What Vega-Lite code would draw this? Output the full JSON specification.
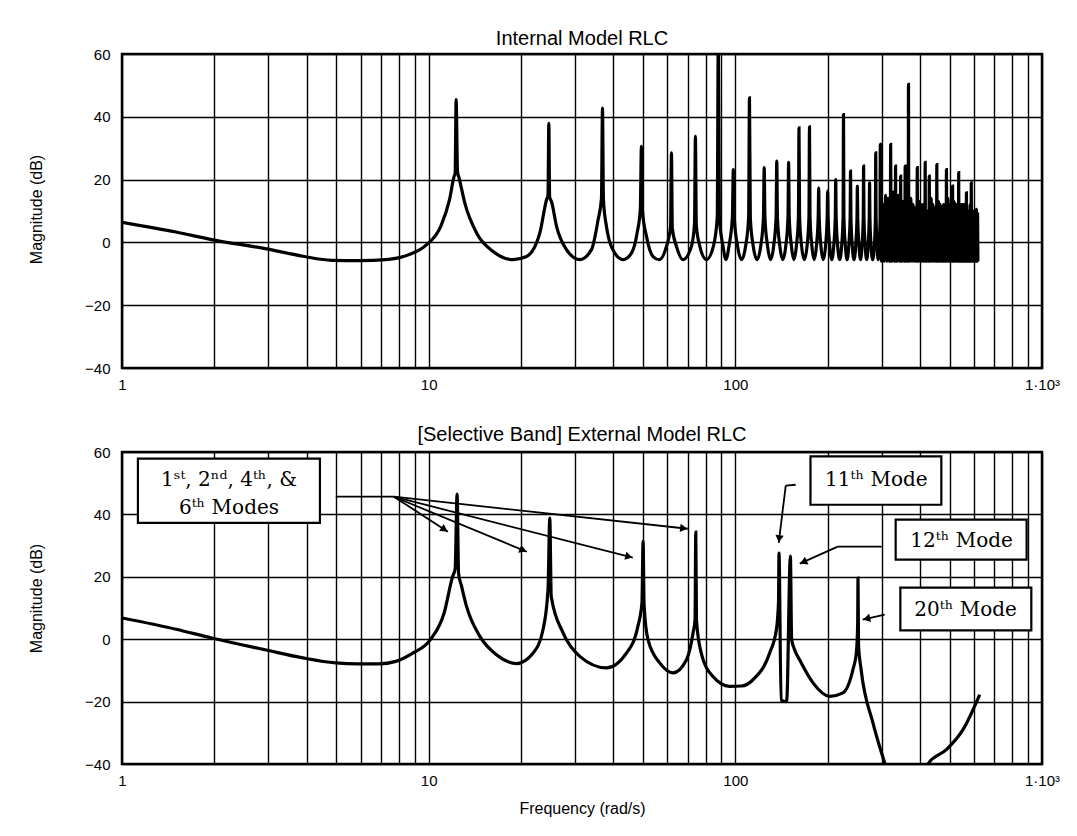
{
  "$schema": "https://vega.github.io/schema/vega-lite/v6.json",
  "background": "white",
  "padding": {"left": 26, "top": 27, "right": 5, "bottom": 5},
  "bounds": "flush",
  "spacing": 84,
  "config": {
    "font": "Liberation Sans",
    "view": {"stroke": "black", "strokeWidth": 2.5},
    "title": {"color": "black", "fontWeight": "normal", "font": "Liberation Sans"}
  },
  "datasets": {
    "top": [
      {"f":1,"db":6.4},{"f":1.5,"db":3.3},{"f":1.96,"db":0.9},{"f":2.93,"db":-2.0},{"f":3.89,"db":-4.4},{"f":4.83,"db":-5.7},{"f":5.88,"db":-5.8},{"f":7.42,"db":-5.4},{"f":8.63,"db":-3.9},{"f":9.85,"db":-0.7},{"f":10.96,"db":5.2},{"f":11.7,"db":13.7},{"f":12.1,"db":21},{"f":12.2,"db":22},{"f":12.29,"db":45.5},{"f":12.42,"db":22.5},{"f":12.57,"db":20.5},{"f":13.12,"db":12.5},{"f":14.33,"db":3.0},{"f":16.23,"db":-2.9},{"f":18.86,"db":-5.5},{"f":20.85,"db":-4.5},{"f":23.04,"db":3.0},{"f":24.23,"db":13.6},{"f":24.5,"db":15},{"f":24.65,"db":37.9},{"f":24.8,"db":14.5},{"f":25.15,"db":13},{"f":26.12,"db":5.1},{"f":28.14,"db":-2.3},{"f":31.1,"db":-5.5},{"f":33.96,"db":-2.3},{"f":35.68,"db":7.2},{"f":36.6,"db":14},{"f":36.88,"db":42.8},{"f":37.15,"db":13.5},{"f":38.0,"db":5.1},{"f":40.45,"db":-3.4},{"f":43.05,"db":-5.5},{"f":45.86,"db":-3.4},{"f":47.83,"db":3},{"f":49.0,"db":10.5},{"f":49.4,"db":30.6},{"f":49.8,"db":10},{"f":51.3,"db":2},{"f":53.9,"db":-4.5},{"f":56.5,"db":-5.5},{"f":59.5,"db":-1.5},{"f":61.5,"db":5},{"f":61.9,"db":28.5},{"f":62.3,"db":4.5},{"f":64.3,"db":-1.3},{"f":67.5,"db":-5.5},{"f":71.9,"db":-1.3},{"f":73.6,"db":6},{"f":74.1,"db":33.8},{"f":74.6,"db":5.5},{"f":76.5,"db":-1},{"f":80.5,"db":-5.5},
      {"f":84.9,"db":-1},{"f":87.3,"db":8},{"f":88,"db":66},{"f":88.7,"db":8},{"f":91.1,"db":-1},{"f":93.2,"db":-5.5},
      {"f":95.4,"db":-1},{"f":97.8,"db":8},{"f":98.5,"db":23.2},{"f":99.2,"db":8},{"f":101.6,"db":-1},{"f":104.8,"db":-5.5},
      {"f":108.1,"db":-1},{"f":110.5,"db":8},{"f":111.2,"db":46},{"f":111.9,"db":8},{"f":114.3,"db":-1},{"f":117.7,"db":-5.5},
      {"f":121.1,"db":-1},{"f":123.5,"db":8},{"f":124.2,"db":23.8},{"f":124.9,"db":8},{"f":127.3,"db":-1},{"f":130.3,"db":-5.5},
      {"f":133.4,"db":-1},{"f":135.8,"db":8},{"f":136.5,"db":25.9},{"f":137.2,"db":8},{"f":139.6,"db":-1},{"f":142.8,"db":-5.5},
      {"f":146.1,"db":-1},{"f":148.5,"db":8},{"f":149.2,"db":25.5},{"f":149.9,"db":8},{"f":152.3,"db":-1},{"f":155.2,"db":-5.5},
      {"f":158.2,"db":-1},{"f":160.6,"db":8},{"f":161.3,"db":36.5},{"f":162,"db":8},{"f":164.4,"db":-1},{"f":167.9,"db":-5.5},
      {"f":171.4,"db":-1},{"f":173.8,"db":8},{"f":174.5,"db":36.8},{"f":175.2,"db":8},{"f":177.6,"db":-1},{"f":180.8,"db":-5.5},
      {"f":183.9,"db":-1},{"f":186.3,"db":8},{"f":187,"db":17.4},{"f":187.7,"db":8},{"f":190.1,"db":-1},{"f":193.5,"db":-5.5},
      {"f":196.9,"db":-1},{"f":199.3,"db":8},{"f":200,"db":16.3},{"f":200.7,"db":8},{"f":203.1,"db":-1},{"f":206.2,"db":-5.5},
      {"f":209.4,"db":-1},{"f":211.8,"db":8},{"f":212.5,"db":20},{"f":213.2,"db":8},{"f":215.6,"db":-1},{"f":218.9,"db":-5.5},
      {"f":222.2,"db":-1},{"f":224.6,"db":8},{"f":225.3,"db":40.7},{"f":226,"db":8},{"f":228.4,"db":-1},{"f":231.4,"db":-5.5},
      {"f":234.4,"db":-1},{"f":236.8,"db":8},{"f":237.5,"db":22.7},{"f":238.2,"db":8},{"f":240.6,"db":-1},{"f":243.7,"db":-5.5},
      {"f":246.9,"db":-1},{"f":249.3,"db":8},{"f":250,"db":17.9},{"f":250.7,"db":8},{"f":253.1,"db":-1},{"f":256,"db":-5.5},
      {"f":258.9,"db":-1},{"f":261.3,"db":8},{"f":262,"db":24.3},{"f":262.7,"db":8},{"f":265.1,"db":-1},{"f":268,"db":-5.5},
      {"f":271,"db":-1},{"f":273.3,"db":8},{"f":274,"db":19},{"f":274.7,"db":8},{"f":277,"db":-1},{"f":280.5,"db":-5.5},
      {"f":284,"db":-1},{"f":286.3,"db":8},{"f":287,"db":28.5},{"f":287.7,"db":8},{"f":290,"db":-1},{"f":292,"db":-5.5},
      {"f":296.3,"db":6},{"f":297,"db":31.2},{"f":297.7,"db":6},{"f":300,"db":-6},{"f":303,"db":12},{"f":306,"db":-6},
      {"f":308.3,"db":8},{"f":309,"db":15},{"f":309.7,"db":8},{"f":312,"db":-6},{"f":315,"db":14},{"f":318,"db":-6},
      {"f":320.3,"db":6},{"f":321,"db":31.2},{"f":321.7,"db":6},{"f":324,"db":-6},{"f":327,"db":16},{"f":330,"db":-6},
      {"f":332.3,"db":6},{"f":333,"db":24.3},{"f":333.7,"db":6},{"f":336.2,"db":-6},{"f":339.5,"db":15},{"f":342.7,"db":-6},
      {"f":345.3,"db":6},{"f":346,"db":21.1},{"f":346.7,"db":6},{"f":349,"db":-6},{"f":352,"db":13},{"f":355,"db":-6},
      {"f":357.3,"db":6},{"f":358,"db":24.3},{"f":358.7,"db":6},{"f":360.2,"db":-6},{"f":362.5,"db":12},{"f":364.8,"db":-6},
      {"f":366.3,"db":6},{"f":367,"db":50.3},{"f":367.7,"db":6},{"f":370.2,"db":-6},{"f":373.5,"db":14},{"f":376.8,"db":-6},
      {"f":379.3,"db":6},{"f":380,"db":12},{"f":380.7,"db":6},{"f":383,"db":-6},{"f":386,"db":11},{"f":389,"db":-6},
      {"f":391.3,"db":6},{"f":392,"db":23.8},{"f":392.7,"db":6},{"f":395,"db":-6},{"f":398,"db":13},{"f":401,"db":-6},
      {"f":403.3,"db":6},{"f":404,"db":12},{"f":404.7,"db":6},{"f":407,"db":-6},{"f":410,"db":12},{"f":413,"db":-6},
      {"f":415.3,"db":6},{"f":416,"db":25.5},{"f":416.7,"db":6},{"f":419.2,"db":-6},{"f":422.5,"db":10},{"f":425.8,"db":-6},
      {"f":428.3,"db":6},{"f":429,"db":21.1},{"f":429.7,"db":6},{"f":432,"db":-6},{"f":435,"db":14},{"f":438,"db":-6},
      {"f":440.3,"db":6},{"f":441,"db":12},{"f":441.7,"db":6},{"f":444.2,"db":-6},{"f":447.5,"db":11},{"f":450.8,"db":-6},
      {"f":453.3,"db":6},{"f":454,"db":24.8},{"f":454.7,"db":6},{"f":457,"db":-6},{"f":460,"db":13},{"f":463,"db":-6},
      {"f":465.3,"db":6},{"f":466,"db":12},{"f":466.7,"db":6},{"f":468.8,"db":-6},{"f":471.5,"db":10},{"f":474.2,"db":-6},
      {"f":476.3,"db":6},{"f":477,"db":12},{"f":477.7,"db":6},{"f":479.8,"db":-6},{"f":482.5,"db":12},{"f":485.2,"db":-6},
      {"f":487.3,"db":6},{"f":488,"db":23.2},{"f":488.7,"db":6},{"f":490.8,"db":-6},{"f":493.5,"db":14},{"f":496.2,"db":-6},
      {"f":498.3,"db":6},{"f":499,"db":12},{"f":499.7,"db":6},{"f":502,"db":-6},{"f":505,"db":11},{"f":508,"db":-6},
      {"f":510.3,"db":6},{"f":511,"db":17.9},{"f":511.7,"db":6},{"f":514,"db":-6},{"f":517,"db":13},{"f":520,"db":-6},
      {"f":522.3,"db":6},{"f":523,"db":12},{"f":523.7,"db":6},{"f":526,"db":-6},{"f":529,"db":10},{"f":532,"db":-6},
      {"f":534.3,"db":6},{"f":535,"db":22.2},{"f":535.7,"db":6},{"f":537.8,"db":-6},{"f":540.5,"db":12},{"f":543.2,"db":-6},
      {"f":545.3,"db":6},{"f":546,"db":12},{"f":546.7,"db":6},{"f":548.5,"db":-6},{"f":551,"db":9},{"f":553.5,"db":-6},
      {"f":555.3,"db":6},{"f":556,"db":12},{"f":556.7,"db":6},{"f":558.8,"db":-6},{"f":561.5,"db":11},{"f":564.2,"db":-6},
      {"f":566.3,"db":6},{"f":567,"db":15.8},{"f":567.7,"db":6},{"f":569.8,"db":-6},{"f":572.5,"db":10},{"f":575.2,"db":-6},
      {"f":577.3,"db":6},{"f":578,"db":10},{"f":578.7,"db":6},{"f":580.5,"db":-6},{"f":583,"db":12},{"f":585.5,"db":-6},
      {"f":587.3,"db":6},{"f":588,"db":19},{"f":588.7,"db":6},{"f":591,"db":-6},{"f":594,"db":9},{"f":597,"db":-6},
      {"f":599.3,"db":6},{"f":600,"db":10},{"f":600.7,"db":6},{"f":602.8,"db":-6},{"f":605.5,"db":9},{"f":608.2,"db":-6},
      {"f":610.3,"db":6},{"f":611,"db":10.5},{"f":611.7,"db":6},{"f":614.5,"db":-6},{"f":616.5,"db":9},{"f":618,"db":-6}
    ],
    "bot": [
      {"f":1,"db":6.8},{"f":1.5,"db":3.2},{"f":1.96,"db":0.4},{"f":2.93,"db":-3.4},{"f":3.89,"db":-6},{"f":4.97,"db":-7.6},{"f":5.88,"db":-7.9},{"f":6.87,"db":-7.9},{"f":7.82,"db":-7.1},{"f":8.9,"db":-4.4},{"f":10.12,"db":-0.2},{"f":11.23,"db":8.4},{"f":11.97,"db":20.1},{"f":12.2,"db":22.5},{"f":12.38,"db":46.5},{"f":12.52,"db":21},{"f":12.8,"db":17},{"f":13.29,"db":10.5},{"f":14.69,"db":0.9},{"f":16.64,"db":-5},{"f":19.34,"db":-7.8},{"f":21.92,"db":-4.4},{"f":23.6,"db":3.1},{"f":24.5,"db":15.9},{"f":24.83,"db":38.8},{"f":25.1,"db":13.7},{"f":27.44,"db":2},{"f":31.1,"db":-5.5},{"f":38,"db":-9.2},{"f":44.2,"db":-4.4},{"f":48.1,"db":4.1},{"f":49.6,"db":11.6},{"f":50.03,"db":31.4},{"f":50.4,"db":11},{"f":51.9,"db":-0.15},{"f":56.7,"db":-7.6},{"f":62.7,"db":-10.8},{"f":69.3,"db":-6.6},{"f":72.8,"db":2},{"f":73.9,"db":6.3},{"f":74.3,"db":34.3},{"f":74.7,"db":6},{"f":77.4,"db":-4.4},{"f":84.4,"db":-11.9},{"f":95.7,"db":-15.1},{"f":105,"db":-15},{"f":114.2,"db":-13},{"f":129.4,"db":-4.4},{"f":136.1,"db":3.1},{"f":138.3,"db":12},{"f":138.8,"db":27.6},{"f":141,"db":-19.5},{"f":147,"db":-20},{"f":151.2,"db":26.6},{"f":152.6,"db":0},{"f":155.5,"db":-3},{"f":162.2,"db":-6.7},{"f":179.2,"db":-14},{"f":203.1,"db":-18.3},{"f":224.4,"db":-17.2},{"f":241.9,"db":-9.7},{"f":248.1,"db":-4.4},{"f":250.6,"db":5},{"f":251.2,"db":19.6},{"f":252.2,"db":-2},{"f":257.1,"db":-9.7},{"f":281,"db":-26.8},{"f":306.9,"db":-39.7},{"f":330,"db":-50},{"f":370,"db":-58},{"f":400,"db":-50},{"f":424.7,"db":-40},{"f":487.5,"db":-35.4},{"f":552.4,"db":-29},{"f":626,"db":-17.8}
    ],
    "boxes": [
      {"x1":1.127,"x2":4.42,"y1":57.85,"y2":37.3,"tx":2.233,"ty":51.1,"label":["1ˢᵗ, 2ⁿᵈ, 4ᵗʰ, &","6ᵗʰ Modes"]},
      {"x1":175.8,"x2":469.6,"y1":58.6,"y2":43.1,"tx":288.4,"ty":51.0,"label":["11ᵗʰ Mode"]},
      {"x1":333.3,"x2":890.9,"y1":38.3,"y2":25.5,"tx":546.9,"ty":31.6,"label":["12ᵗʰ Mode"]},
      {"x1":345.2,"x2":922.9,"y1":16.5,"y2":2.8,"tx":563.6,"ty":9.5,"label":["20ᵗʰ Mode"]}
    ],
    "arrows": [
      {"x1":4.98,"y1":45.67,"x2":7.70,"y2":45.67},
      {"x1":7.70,"y1":45.67,"x2":11.55,"y2":34.46},
      {"x1":7.70,"y1":45.67,"x2":20.9,"y2":28.04},
      {"x1":7.70,"y1":45.67,"x2":46.3,"y2":26.12},
      {"x1":7.70,"y1":45.67,"x2":69.97,"y2":35.4},
      {"x1":157.3,"y1":49.5,"x2":146.0,"y2":49.2},
      {"x1":146.0,"y1":49.2,"x2":138.5,"y2":30.9},
      {"x1":300.1,"y1":29.65,"x2":215.7,"y2":29.65},
      {"x1":215.7,"y1":29.65,"x2":162.2,"y2":24.2},
      {"x1":306.9,"y1":7.85,"x2":260.2,"y2":6.25}
    ]
  },
  "vconcat": [
    {
      "width": 920,
      "height": 314,
      "title": {"text": "Internal Model RLC", "fontSize": 20, "offset": -2},
      "layer": [
        {
          "data": {"name": "top"},
          "mark": {"type": "line", "color": "black", "strokeWidth": 3.2, "clip": true, "interpolate": "monotone"},
          "encoding": {
            "x": {"field": "f", "type": "quantitative",
              "scale": {"type": "log", "domain": [1, 1000], "nice": false},
              "axis": {"values": [1,2,3,4,5,6,7,8,9,10,20,30,40,50,60,70,80,90,100,200,300,400,500,600,700,800,900,1000],
                "labelExpr": "datum.value == 1 ? '1' : datum.value == 10 ? '10' : datum.value == 100 ? '100' : datum.value == 1000 ? '1·10³' : ''",
                "grid": true, "gridColor": "black", "gridWidth": 1.4, "gridOpacity": 1,
                "ticks": false, "domain": false, "labelFontSize": 15, "labelColor": "black", "labelPadding": 9,
                "labelFlush": false, "labelOverlap": false, "labelBound": false, "title": null}},
            "y": {"field": "db", "type": "quantitative",
              "scale": {"domain": [-40, 60], "nice": false},
              "axis": {"values": [-40,-20,0,20,40,60], "grid": true, "gridColor": "black", "gridWidth": 1.5, "gridOpacity": 1,
                "ticks": false, "domain": false, "labelFontSize": 15, "labelColor": "black", "labelPadding": 12,
                "title": "Magnitude (dB)", "titleFontSize": 16, "titleFontWeight": "normal", "titleColor": "black",
                "titleX": -86, "titleY": 155, "titleBaseline": "middle", "titleAngle": -90}}
          }
        }
      ]
    },
    {
      "width": 920,
      "height": 312,
      "title": {"text": "[Selective Band] External Model RLC", "fontSize": 20, "offset": 0},
      "layer": [
        {
          "data": {"name": "bot"},
          "mark": {"type": "line", "color": "black", "strokeWidth": 3.2, "clip": true, "interpolate": "monotone"},
          "encoding": {
            "x": {"field": "f", "type": "quantitative",
              "scale": {"type": "log", "domain": [1, 1000], "nice": false},
              "axis": {"values": [1,2,3,4,5,6,7,8,9,10,20,30,40,50,60,70,80,90,100,200,300,400,500,600,700,800,900,1000],
                "labelExpr": "datum.value == 1 ? '1' : datum.value == 10 ? '10' : datum.value == 100 ? '100' : datum.value == 1000 ? '1·10³' : ''",
                "grid": true, "gridColor": "black", "gridWidth": 1.4, "gridOpacity": 1,
                "ticks": false, "domain": false, "labelFontSize": 15, "labelColor": "black", "labelPadding": 9,
                "labelFlush": false, "labelOverlap": false, "labelBound": false,
                "title": "Frequency (rad/s)", "titleFontSize": 16, "titleFontWeight": "normal", "titleColor": "black", "titlePadding": 12}},
            "y": {"field": "db", "type": "quantitative",
              "scale": {"domain": [-40, 60], "nice": false},
              "axis": {"values": [-40,-20,0,20,40,60], "grid": true, "gridColor": "black", "gridWidth": 1.5, "gridOpacity": 1,
                "ticks": false, "domain": false, "labelFontSize": 15, "labelColor": "black", "labelPadding": 12,
                "title": "Magnitude (dB)", "titleFontSize": 16, "titleFontWeight": "normal", "titleColor": "black",
                "titleX": -86, "titleY": 146, "titleBaseline": "middle", "titleAngle": -90}}
          }
        },
        {
          "data": {"name": "arrows"},
          "mark": {"type": "rule", "color": "black", "strokeWidth": 1.8},
          "encoding": {
            "x": {"field": "x1", "type": "quantitative"},
            "y": {"field": "y1", "type": "quantitative"},
            "x2": {"field": "x2"},
            "y2": {"field": "y2"}
          }
        },
        {"data": {"values": [{"x": 11.26, "y": 35.16}]}, "mark": {"type": "point", "shape": "triangle-right", "filled": true, "color": "black", "opacity": 1, "size": 70, "angle": 33}, "encoding": {"x": {"field": "x", "type": "quantitative"}, "y": {"field": "y", "type": "quantitative"}}},
        {"data": {"values": [{"x": 20.32, "y": 28.53}]}, "mark": {"type": "point", "shape": "triangle-right", "filled": true, "color": "black", "opacity": 1, "size": 70, "angle": 22.5}, "encoding": {"x": {"field": "x", "type": "quantitative"}, "y": {"field": "y", "type": "quantitative"}}},
        {"data": {"values": [{"x": 44.97, "y": 26.44}]}, "mark": {"type": "point", "shape": "triangle-right", "filled": true, "color": "black", "opacity": 1, "size": 70, "angle": 14.3}, "encoding": {"x": {"field": "x", "type": "quantitative"}, "y": {"field": "y", "type": "quantitative"}}},
        {"data": {"values": [{"x": 67.9, "y": 35.55}]}, "mark": {"type": "point", "shape": "triangle-right", "filled": true, "color": "black", "opacity": 1, "size": 70, "angle": 6.2}, "encoding": {"x": {"field": "x", "type": "quantitative"}, "y": {"field": "y", "type": "quantitative"}}},
        {"data": {"values": [{"x": 139.0, "y": 32.2}]}, "mark": {"type": "point", "shape": "triangle-right", "filled": true, "color": "black", "opacity": 1, "size": 70, "angle": 97}, "encoding": {"x": {"field": "x", "type": "quantitative"}, "y": {"field": "y", "type": "quantitative"}}},
        {"data": {"values": [{"x": 166.7, "y": 24.7}]}, "mark": {"type": "point", "shape": "triangle-right", "filled": true, "color": "black", "opacity": 1, "size": 70, "angle": 156}, "encoding": {"x": {"field": "x", "type": "quantitative"}, "y": {"field": "y", "type": "quantitative"}}},
        {"data": {"values": [{"x": 267.9, "y": 6.55}]}, "mark": {"type": "point", "shape": "triangle-right", "filled": true, "color": "black", "opacity": 1, "size": 70, "angle": 167}, "encoding": {"x": {"field": "x", "type": "quantitative"}, "y": {"field": "y", "type": "quantitative"}}},
        {
          "data": {"name": "boxes"},
          "mark": {"type": "rect", "fill": "white", "stroke": "black", "strokeWidth": 2.2},
          "encoding": {
            "x": {"field": "x1", "type": "quantitative"},
            "x2": {"field": "x2"},
            "y": {"field": "y1", "type": "quantitative"},
            "y2": {"field": "y2"}
          }
        },
        {
          "data": {"name": "boxes"},
          "mark": {"type": "text", "font": "DejaVu Serif", "fontSize": 20, "lineHeight": 28, "align": "center", "baseline": "middle", "color": "black"},
          "encoding": {
            "x": {"field": "tx", "type": "quantitative"},
            "y": {"field": "ty", "type": "quantitative"},
            "text": {"field": "label"}
          }
        }
      ]
    }
  ]
}
